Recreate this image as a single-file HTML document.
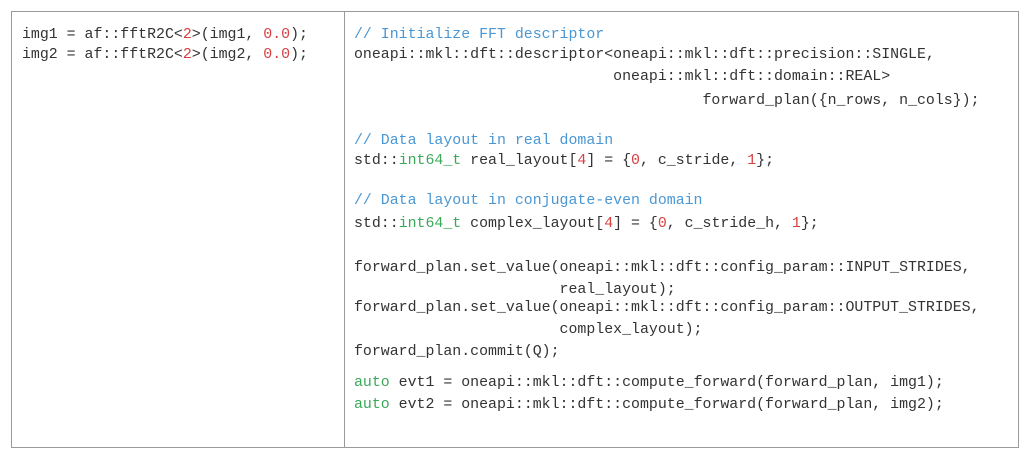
<!DOCTYPE html>
<html><head><meta charset="utf-8"><style>
body{margin:0;width:1032px;height:460px;background:#fff;position:relative;overflow:hidden}
.box{position:absolute;left:11px;top:11px;width:1006px;height:435px;border:1px solid #9a9a9a}
.div{position:absolute;left:344px;top:11px;width:1px;height:436px;background:#9a9a9a}
.l{position:absolute;font-family:"Liberation Mono",monospace;font-size:14.9px;line-height:18px;color:#333;white-space:pre}
.c{color:#4a97d4}.g{color:#3aa85a}.r{color:#d84040}
</style></head><body>
<div class="box"></div><div class="div"></div>
<div class="l" style="left:22px;top:26px">img1 = af::fftR2C&lt;<span class="r">2</span>&gt;(img1, <span class="r">0.0</span>);</div>
<div class="l" style="left:22px;top:46px">img2 = af::fftR2C&lt;<span class="r">2</span>&gt;(img2, <span class="r">0.0</span>);</div>
<div class="l c" style="left:354px;top:26px">// Initialize FFT descriptor</div>
<div class="l" style="left:354px;top:46px">oneapi::mkl::dft::descriptor&lt;oneapi::mkl::dft::precision::SINGLE,</div>
<div class="l" style="left:354px;top:68px">                             oneapi::mkl::dft::domain::REAL&gt;</div>
<div class="l" style="left:354px;top:92px">                                       forward_plan({n_rows, n_cols});</div>
<div class="l c" style="left:354px;top:132px">// Data layout in real domain</div>
<div class="l" style="left:354px;top:152px">std::<span class="g">int64_t</span> real_layout[<span class="r">4</span>] = {<span class="r">0</span>, c_stride, <span class="r">1</span>};</div>
<div class="l c" style="left:354px;top:192px">// Data layout in conjugate-even domain</div>
<div class="l" style="left:354px;top:215px">std::<span class="g">int64_t</span> complex_layout[<span class="r">4</span>] = {<span class="r">0</span>, c_stride_h, <span class="r">1</span>};</div>
<div class="l" style="left:354px;top:259px">forward_plan.set_value(oneapi::mkl::dft::config_param::INPUT_STRIDES,</div>
<div class="l" style="left:354px;top:281px">                       real_layout);</div>
<div class="l" style="left:354px;top:299px">forward_plan.set_value(oneapi::mkl::dft::config_param::OUTPUT_STRIDES,</div>
<div class="l" style="left:354px;top:321px">                       complex_layout);</div>
<div class="l" style="left:354px;top:343px">forward_plan.commit(Q);</div>
<div class="l" style="left:354px;top:374px"><span class="g">auto</span> evt1 = oneapi::mkl::dft::compute_forward(forward_plan, img1);</div>
<div class="l" style="left:354px;top:396px"><span class="g">auto</span> evt2 = oneapi::mkl::dft::compute_forward(forward_plan, img2);</div>
</body></html>
